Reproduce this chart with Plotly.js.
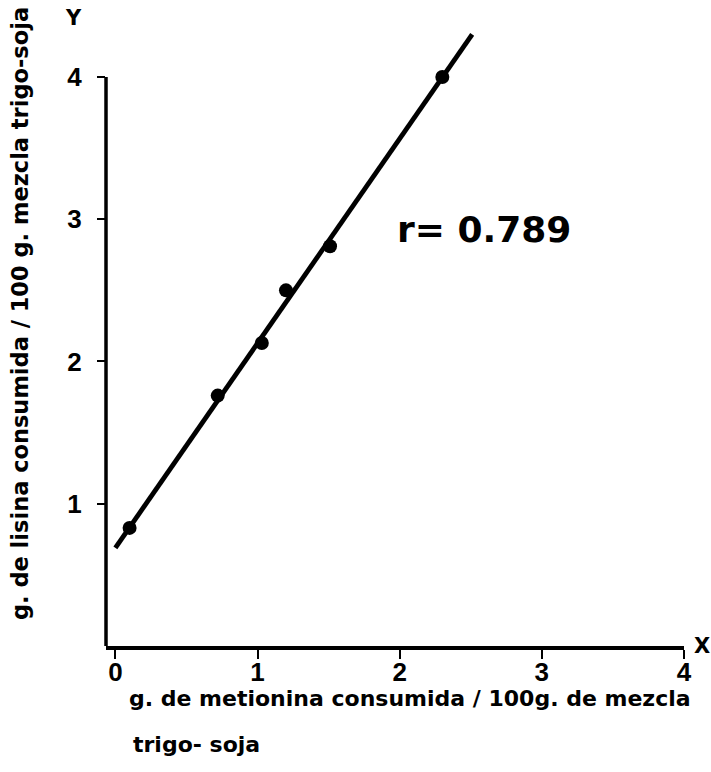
<!DOCTYPE html>
<html>
<head>
<meta charset="utf-8">
<script src="https://cdn.plot.ly/plotly-3.0.1.min.js"></script>
<style>html,body{margin:0;padding:0;background:#fff;}#chart{width:711px;height:772px;}</style>
</head>
<body>
<div id="chart"></div>
<script>
// Data
const metionina = [0.10, 0.72, 1.03, 1.20, 1.51, 2.30];   // x: g metionina / 100 g
const lisina    = [0.83, 1.76, 2.13, 2.50, 2.81, 4.00];   // y: g lisina / 100 g
const rectaX = [0.00, 2.51];                               // regression line endpoints (x)
const rectaY = [0.69, 4.30];                               // regression line endpoints (y)
const xTicks = [0, 1, 2, 3, 4];
const xTickText = ['0', '1', '2', '3', '4'];
const yTicks = [1, 2, 3, 4];
const yTickText = ['1', '2', '3', '4'];
const rText = 'r= 0.789';
const xTitle1 = 'g. de metionina consumida / 100g. de mezcla';
const xTitle2 = 'trigo- soja';
const yTitle = 'g. de lisina consumida / 100 g. mezcla trigo-soja';

const xRange = [-0.066, 4.0];
const yRange = [0, 4.316];

const tickFont = {family: 'Liberation Sans, Arial, sans-serif', size: 26, color: '#000', weight: 'bold'};
const titleFont = {family: 'DejaVu Sans, sans-serif', size: 22, color: '#000', weight: 'bold'};

const traces = [
  {
    x: rectaX, y: rectaY, mode: 'lines', type: 'scatter',
    line: {color: '#000', width: 4.8}, hoverinfo: 'skip', showlegend: false
  },
  {
    x: metionina, y: lisina, mode: 'markers', type: 'scatter',
    marker: {color: '#000', size: 14, line: {color: '#000', width: 0}},
    showlegend: false, cliponaxis: false
  }
];

const layout = {
  width: 711, height: 772,
  margin: {l: 106, r: 27, t: 32, b: 126},
  paper_bgcolor: '#fff', plot_bgcolor: '#fff',
  showlegend: false,
  xaxis: {
    range: xRange, tickvals: xTicks, ticktext: xTickText,
    showgrid: false, zeroline: false,
    showline: true, linecolor: '#000', linewidth: 3.5,
    ticks: 'outside', ticklen: 9, tickwidth: 2, tickcolor: '#000',
    tickfont: tickFont, ticklabelstandoff: -9
  },
  yaxis: {
    range: yRange, tickvals: yTicks, ticktext: yTickText,
    showgrid: false, zeroline: false, showline: false,
    ticks: 'outside', ticklen: 8, tickwidth: 2, tickcolor: '#000',
    tickfont: tickFont, ticklabelstandoff: 10
  },
  shapes: [
    {type: 'line', xref: 'paper', yref: 'paper', x0: 0, x1: 0, y0: 0, y1: yTicks[yTicks.length - 1] / yRange[1],
     line: {color: '#000', width: 3.5}}
  ],
  annotations: [
    {text: rText, xref: 'x', yref: 'y', x: 1.97, y: 2.93, xanchor: 'left', yanchor: 'middle', showarrow: false,
     font: {family: 'DejaVu Sans, sans-serif', size: 36, color: '#000', weight: 'bold'}},
    {text: 'Y', xref: 'paper', yref: 'paper', x: -0.057, y: 1.023, xanchor: 'center', yanchor: 'middle', showarrow: false,
     font: {family: 'DejaVu Sans, sans-serif', size: 21, color: '#000', weight: 'bold'}},
    {text: 'X', xref: 'paper', yref: 'paper', x: 1.031, y: 0.0, xanchor: 'center', yanchor: 'middle', showarrow: false,
     font: {family: 'DejaVu Sans, sans-serif', size: 21, color: '#000', weight: 'bold'}},
    {text: xTitle1, xref: 'paper', yref: 'paper', x: 0.036, y: -0.086, xanchor: 'left', yanchor: 'middle', align: 'left', showarrow: false,
     font: titleFont},
    {text: xTitle2, xref: 'paper', yref: 'paper', x: 0.044, y: -0.160, xanchor: 'left', yanchor: 'middle', align: 'left', showarrow: false,
     font: titleFont},
    {text: yTitle, xref: 'paper', yref: 'paper', x: -0.149, y: 0.542, xanchor: 'center', yanchor: 'middle', textangle: -90, showarrow: false,
     font: {family: 'DejaVu Sans, sans-serif', size: 22.5, color: '#000', weight: 'bold'}}
  ]
};

Plotly.newPlot('chart', traces, layout, {staticPlot: true, displayModeBar: false});
</script>
</body>
</html>
